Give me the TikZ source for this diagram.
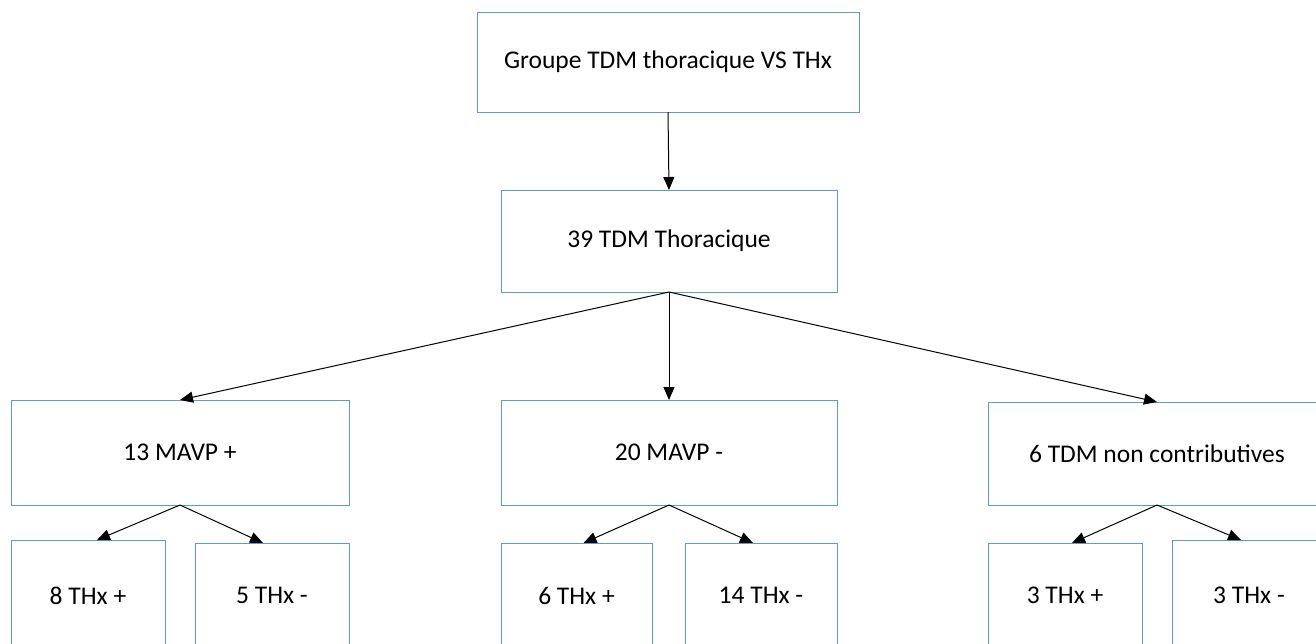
\documentclass[tikz,border=0pt]{standalone}
\usepackage{fontspec}
\setmainfont{Carlito}
\usetikzlibrary{arrows.meta,calc}
\definecolor{boxblue}{HTML}{5B9BD5}
\tikzset{
  box/.style={draw=boxblue, line width=1pt, rectangle, inner sep=0pt, outer sep=0pt, align=center, font=\fontsize{25.5}{30}\selectfont},
  arr/.style={draw=black, line width=1pt, -{Triangle[length=13pt,width=11pt]}},
}
\begin{document}
\begin{tikzpicture}[x=1pt,y=-1pt]
\useasboundingbox[fill=white] (0,0) rectangle (1316,643);
\clip (0,0) rectangle (1316,643);
\node[box, minimum width=382pt, minimum height=100pt] (top) at (668,62) {Groupe TDM thoracique VS THx};
\node[box, minimum width=336pt, minimum height=102pt] (tdm) at (669,241) {39 TDM Thoracique};
\node[box, minimum width=338pt, minimum height=105pt] (m1) at (180,452.5) {13 MAVP +};
\node[box, minimum width=336pt, minimum height=105pt] (m2) at (669,452.5) {20 MAVP -};
\node[box, minimum width=338pt, minimum height=103pt] (m3) at (1157,453.5) {6 TDM non contributives};
\node[box, minimum width=154pt, minimum height=111pt] (b1) at (88,595.5) {8 THx +};
\node[box, minimum width=154pt, minimum height=105pt] (b2) at (272,595.5) {5 THx -};
\node[box, minimum width=151pt, minimum height=105pt] (b3) at (576.5,595.5) {6 THx +};
\node[box, minimum width=152pt, minimum height=105pt] (b4) at (761,595.5) {14 THx -};
\node[box, minimum width=154pt, minimum height=105pt] (b5) at (1065,595.5) {3 THx +};
\node[box, minimum width=154pt, minimum height=111pt] (b6) at (1249,595.5) {3 THx -};
\draw[arr] (top.south) -- (tdm.north);
\draw[arr] (tdm.south) -- (m1.north);
\draw[arr] (tdm.south) -- (m2.north);
\draw[arr] (tdm.south) -- (m3.north);
\draw[arr] (m1.south) -- ($(b1.north)+(9,0)$);
\draw[arr] (m1.south) -- ($(b2.north)+(-9,0)$);
\draw[arr] (m2.south) -- ($(b3.north)+(7,0)$);
\draw[arr] (m2.south) -- ($(b4.north)+(-8,0)$);
\draw[arr] (m3.south) -- ($(b5.north)+(7,0)$);
\draw[arr] (m3.south) -- ($(b6.north)+(-8,0)$);
\end{tikzpicture}
\end{document}
